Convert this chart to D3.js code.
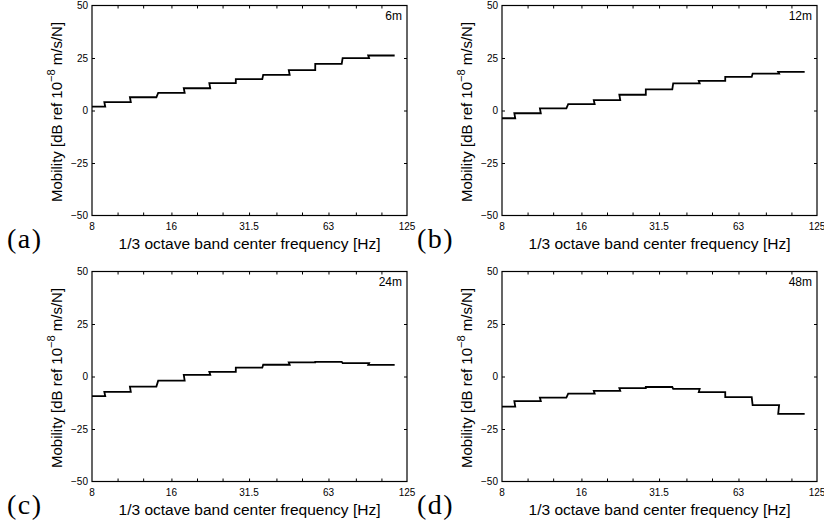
<!DOCTYPE html>
<html>
<head>
<meta charset="utf-8">
<script src="https://cdn.jsdelivr.net/npm/d3@7"></script>
<style>
  body { margin: 0; background: #fff; }
  text { font-family: "Liberation Sans", Arial, sans-serif; fill: #000; }
  .letter { font-family: "Liberation Serif", "Times New Roman", serif; }
</style>
</head>
<body>
<div id="main"></div>
<script>
// 1/3 octave band centres (Hz) shown as ticks along x
const bands = [8, 10, 12.5, 16, 20, 25, 31.5, 40, 50, 63, 80, 100, 125];
const xLabels = [8, 16, 31.5, 63, 125];
const yTicks = [-50, -25, 0, 25, 50];

// mobility per band (8 .. 100 Hz), dB ref 1e-8 m/s/N
const mob6m  = [1.8, 4.0, 6.3, 8.4, 10.6, 13.0, 14.9, 17.0, 19.2, 22.2, 24.9, 26.2];
const mob12m = [-3.7, -1.3, 1.0, 3.0, 4.9, 7.5, 10.1, 12.9, 14.1, 16.0, 17.6, 18.4];
const mob24m = [-9.3, -7.3, -4.8, -2.0, 0.8, 2.2, 4.2, 5.6, 6.7, 7.0, 6.4, 5.5];
const mob48m = [-14.3, -11.7, -10.1, -8.2, -6.8, -5.5, -5.0, -5.9, -7.4, -9.8, -13.6, -17.8];

const distances = ['6m', '12m', '24m', '48m'];
const letters = ['(a)', '(b)', '(c)', '(d)'];
const series = [mob6m, mob12m, mob24m, mob48m];

const W = 824, H = 529;
const pw = 315, ph = 210;          // plot box
const colX = [92, 502];
const rowY = [5.5, 271.5];

const svg = d3.select('#main').append('svg')
    .attr('width', W)
    .attr('height', H);

series.forEach((vals, k) => {
    const ox = colX[k % 2];
    const oy = rowY[Math.floor(k / 2)];

    const g = svg.append('g').attr('transform', 'translate(' + ox + ',' + oy + ')');

    const x = d3.scaleLog().domain([8, 125]).range([0, pw]);
    const y = d3.scaleLinear().domain([-50, 50]).range([ph, 0]);

    // axes: ticks inward on all four sides
    const minor = bands.slice(1, -1);
    g.append('g')
        .attr('transform', 'translate(0,' + ph + ')')
        .call(d3.axisBottom(x).tickValues(minor).tickSize(-3).tickFormat(''))
        .call(a => a.select('.domain').remove());
    g.append('g')
        .call(d3.axisTop(x).tickValues(minor).tickSize(-3).tickFormat(''))
        .call(a => a.select('.domain').remove());
    g.append('g')
        .call(d3.axisLeft(y).tickValues(yTicks.slice(1, -1)).tickSize(-3).tickFormat(''))
        .call(a => a.select('.domain').remove());
    g.append('g')
        .attr('transform', 'translate(' + pw + ',0)')
        .call(d3.axisRight(y).tickValues(yTicks.slice(1, -1)).tickSize(-3).tickFormat(''))
        .call(a => a.select('.domain').remove());
    g.selectAll('.tick line').attr('stroke', '#000').attr('stroke-width', 1);

    // tick labels
    g.selectAll('.xl')
        .data(xLabels)
        .enter()
        .append('text')
        .attr('x', d => x(d))
        .attr('y', ph + 14.5)
        .attr('text-anchor', 'middle')
        .attr('font-size', 10)
        .text(d => d);
    g.selectAll('.yl')
        .data(yTicks)
        .enter()
        .append('text')
        .attr('x', -4)
        .attr('y', d => y(d) + 3.5)
        .attr('text-anchor', 'end')
        .attr('font-size', 10)
        .text(d => d < 0 ? '\u2212' + Math.abs(d) : d);

    // stepped band levels
    const pts = [];
    vals.forEach((v, i) => {
        const fc = bands[i];
        pts.push([Math.max(8, fc * Math.pow(2, -1 / 6)), v]);
        pts.push([fc * Math.pow(2, 1 / 6), v]);
    });
    g.append('path')
        .datum(pts)
        .attr('fill', 'none')
        .attr('stroke', '#000')
        .attr('stroke-width', 1.8)
        .attr('d', d3.line().x(d => x(d[0])).y(d => y(d[1])));

    // frame
    g.append('rect')
        .attr('width', pw)
        .attr('height', ph)
        .attr('fill', 'none')
        .attr('stroke', '#000')
        .attr('stroke-width', 1.2);

    g.append('text')
        .attr('x', pw - 5)
        .attr('y', 14.5)
        .attr('text-anchor', 'end')
        .attr('font-size', 12)
        .text(distances[k]);

    // axis titles
    g.append('text')
        .attr('x', pw / 2)
        .attr('y', ph + 33.5)
        .attr('text-anchor', 'middle')
        .attr('font-size', 15.5)
        .text('1/3 octave band center frequency [Hz]');

    const yt = g.append('text')
        .attr('transform', 'translate(-30,' + (ph / 2 + 1.5) + ') rotate(-90)')
        .attr('text-anchor', 'middle')
        .attr('font-size', 15);
    yt.append('tspan').text('Mobility [dB ref 10');
    yt.append('tspan').attr('dy', -7).attr('font-size', 11).text('\u22128');
    yt.append('tspan').attr('dy', 7).text(' m/s/N]');

    svg.append('text')
        .attr('class', 'letter')
        .attr('x', ox - 85)
        .attr('y', oy + ph + 32.5)
        .attr('font-size', 28)
        .attr('letter-spacing', 1.5)
        .text(letters[k]);
});
</script>
</body>
</html>
